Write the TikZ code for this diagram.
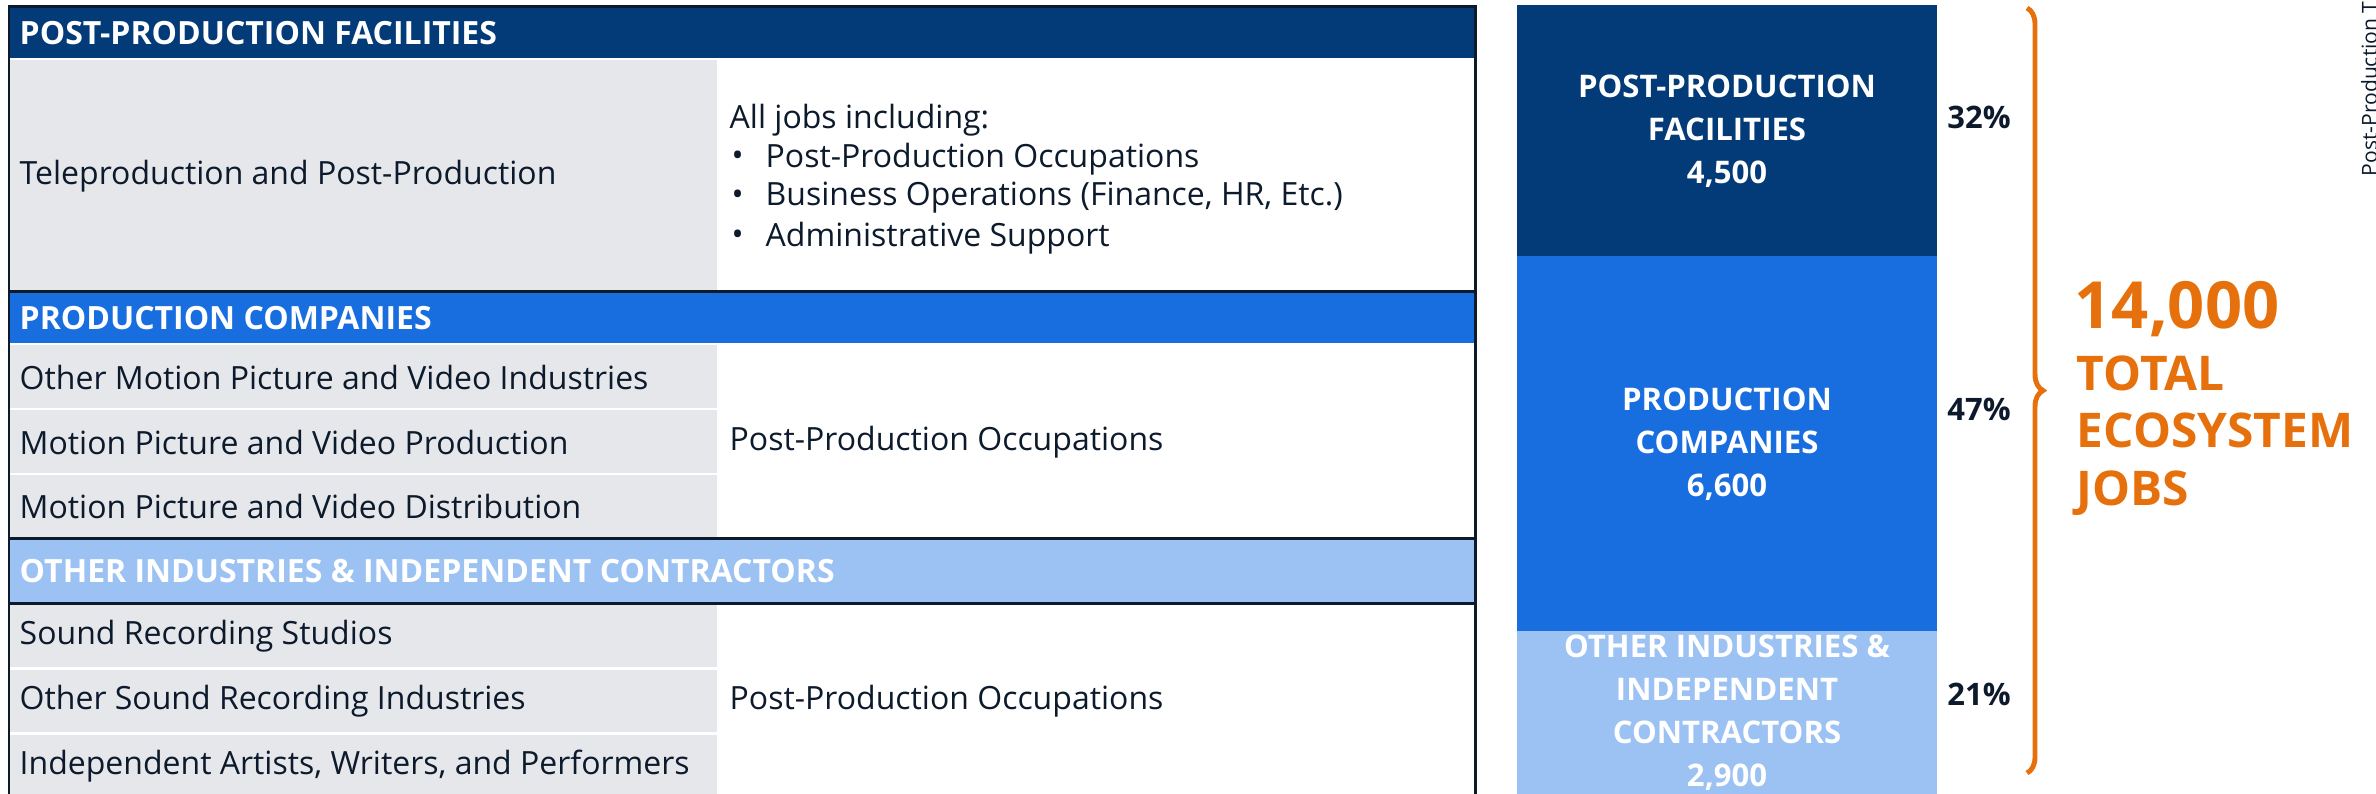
\documentclass[tikz,border=0pt]{standalone}
\usepackage{fontspec}
\setmainfont{Open Sans}
\usetikzlibrary{decorations.pathreplacing}
\definecolor{navy}{HTML}{023B78}
\definecolor{midblue}{HTML}{196EDF}
\definecolor{lightblue}{HTML}{9BC2F3}
\definecolor{cellgray}{HTML}{E6E7EB}
\definecolor{inkdark}{HTML}{0C1A2C}
\definecolor{brandorange}{HTML}{E5700C}

\begin{document}
\begin{tikzpicture}[x=0.01cm, y=-0.01cm,
    head/.style={anchor=west, inner sep=0, text=white, font=\fontsize{9.1}{10}\selectfont\bfseries},
    cell/.style={anchor=west, inner sep=0, text=inkdark, font=\fontsize{9.1}{11}\selectfont},
    barlabel/.style={align=center, inner sep=0, text=white, font=\fontsize{8.85}{12.2}\selectfont\bfseries},
    share/.style={inner sep=0, text=inkdark, font=\fontsize{8.8}{10}\selectfont\bfseries},
    total/.style={anchor=base west, inner sep=0, text=brandorange, font=\fontsize{13.6}{16}\selectfont\bfseries},
    sep/.style={draw=inkdark, line width=0.85pt}]
    \clip (0,0) rectangle (2376,793);
    % table
    \fill[navy] (9,6) rectangle (1475,58);
    \fill[cellgray] (9,60) rectangle (717,290);
    \fill[midblue] (9,292) rectangle (1475,343);
    \fill[lightblue] (9,540) rectangle (1475,603);
    \foreach \ya/\yb in {345/408, 410/473, 475/537, 605/667, 670/732, 735/800}
        \fill[cellgray] (9,\ya) rectangle (717,\yb);
    \draw[sep] (9,800) -- (9,6) -- (1475,6) -- (1475,800);
    \draw[sep] (9,291) -- (1475,291);
    \draw[sep] (9,538.5) -- (1475,538.5);
    \draw[sep] (9,603.5) -- (1475,603.5);

    \node[head] (hpost) at (19,33) {POST-PRODUCTION FACILITIES};
    \node[cell] (tele) at (19,176) {Teleproduction and Post-Production};
    \node[cell] (alljobs) at (729,120) {All jobs including:};
    \foreach \y/\t in {159/Post-Production Occupations, 198/{Business Operations (Finance, HR, Etc.)}, 238/Administrative Support} {
        \node[cell] (dot\y) at (731,\y) {\textbullet};
        \node[cell] (job\y) at (765,\y) {\t};
    }

    \node[head] (hprod) at (19,318) {PRODUCTION COMPANIES};
    \node[cell] (omp) at (19,377) {Other Motion Picture and Video Industries};
    \node[cell] (mpp) at (19,442) {Motion Picture and Video Production};
    \node[cell] (mpd) at (19,506) {Motion Picture and Video Distribution};
    \node[cell] (occprod) at (729,442) {Post-Production Occupations};

    \node[head] (hother) at (19,571) {OTHER INDUSTRIES \& INDEPENDENT CONTRACTORS};
    \node[cell] (srs) at (19,636) {Sound Recording Studios};
    \node[cell] (osr) at (19,701) {Other Sound Recording Industries};
    \node[cell] (iaw) at (19,766) {Independent Artists, Writers, and Performers};
    \node[cell] (occother) at (729,701) {Post-Production Occupations};

    % stacked bar
    \fill[navy] (1517,5) rectangle (1937,256);
    \fill[midblue] (1517,256) rectangle (1937,631);
    \fill[lightblue] (1517,631) rectangle (1937,800);
    \node[barlabel] (barpost) at (1727,131) {POST-PRODUCTION\\FACILITIES\\4,500};
    \node[barlabel] (barprod) at (1727,444) {PRODUCTION\\COMPANIES\\6,600};
    \node[barlabel] (barother) at (1727,713) {OTHER INDUSTRIES \&\\INDEPENDENT\\CONTRACTORS\\2,900};
    \node[share] (s32) at (1979,117) {32\%};
    \node[share] (s47) at (1979,409) {47\%};
    \node[share] (s21) at (1979,694) {21\%};

    \draw[brandorange, line width=1.4pt, decorate, decoration={brace, amplitude=0.16cm}] (2027,8) -- (2027,773);
    \node[total, font=\fontsize{18.5}{20}\selectfont\bfseries] (jobsnum) at (2074,328) {14,000};
    \node[total] (ltotal) at (2076,390) {TOTAL};
    \node[total] (leco) at (2076,447) {ECOSYSTEM};
    \node[total] (ljobs) at (2076,505) {JOBS};

    \node[rotate=90, anchor=base west, inner sep=0, text=inkdark, font=\fontsize{6}{7}\selectfont] (side) at (2377,177) {Post-Production T};
\end{tikzpicture}
\end{document}
